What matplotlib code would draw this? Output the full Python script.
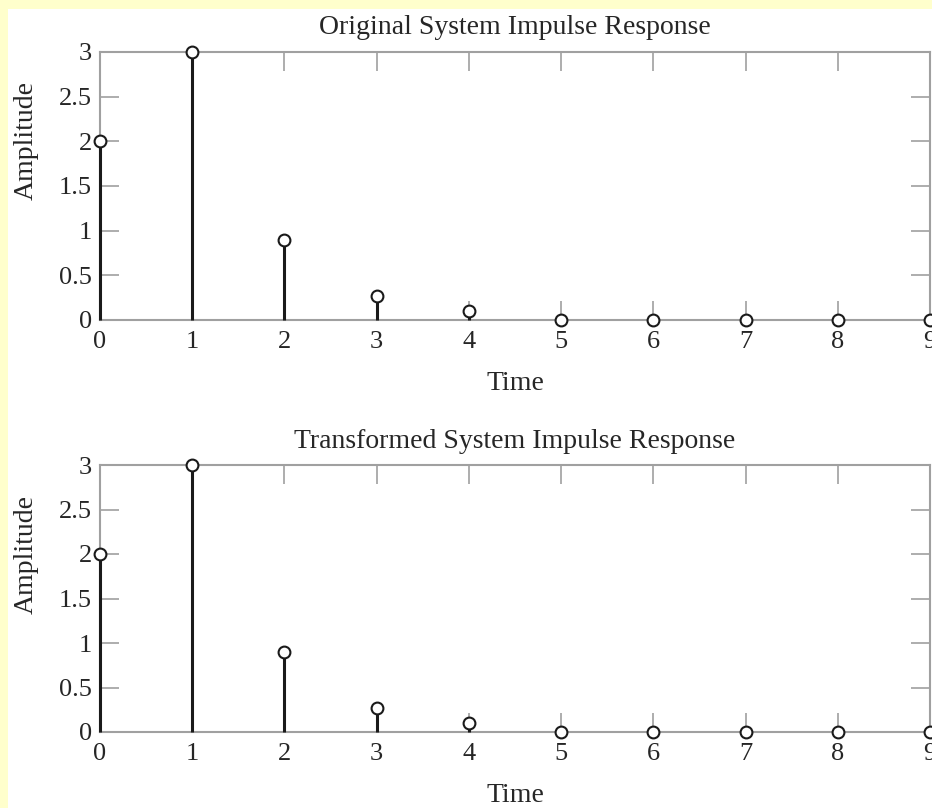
import matplotlib
matplotlib.use("Agg")
import matplotlib.pyplot as plt
import numpy as np

time_idx = [0, 1, 2, 3, 4, 5, 6, 7, 8, 9]
original = [2, 3, 0.9, 0.27, 0.1, 0, 0, 0, 0, 0]
transformed = [2, 3, 0.9, 0.27, 0.1, 0, 0, 0, 0, 0]
titles = ["Original System Impulse Response", "Transformed System Impulse Response"]
yticks = [0, 0.5, 1, 1.5, 2, 2.5, 3]
ytick_labels = ["0", "0.5", "1", "1.5", "2", "2.5", "3"]

plt.rcParams['font.family'] = ['Liberation Serif', 'DejaVu Serif']

W, H = 932, 808
fig = plt.figure(figsize=(W/100, H/100), dpi=100, facecolor='#FFFFCC')
# white panel (background axes)
bg = fig.add_axes([8/W, 0, 1 - 8/W, 1 - 9/H], zorder=-10)
bg.axis('off')
bg.add_patch(plt.Rectangle((0, 0), 1, 1, transform=bg.transAxes,
                           facecolor='white', edgecolor='none'))

axes_px = [(52, 320), (465, 732)]
ylabel_centers = [140, 555]
series = [original, transformed]
spine_col = '#a0a0a0'
text_col = '#262626'
for (top, bot), yl, vals, title in zip(axes_px, ylabel_centers, series, titles):
    h = bot - top
    ax = fig.add_axes([100/W, 1 - bot/H, 830/W, h/H])
    ax.set_facecolor('none')
    ax.set_xlim(0, 9)
    ax.set_ylim(0, 3)
    for x, v in zip(time_idx, vals):
        ax.plot([x, x], [0, v], color='#1a1a1a', lw=2.2, solid_capstyle='butt',
                clip_on=False, zorder=3)
    ax.plot(time_idx, vals, linestyle='none', marker='o', markersize=8.5,
            markerfacecolor='white', markeredgecolor='#1a1a1a', markeredgewidth=1.5,
            clip_on=False, zorder=4)
    for s in ax.spines.values():
        s.set_color(spine_col)
        s.set_linewidth(1.5)
    ax.set_xticks(time_idx)
    ax.set_xticklabels([str(t) for t in time_idx])
    ax.set_yticks(yticks)
    ax.set_yticklabels(ytick_labels)
    ax.tick_params(direction='in', length=14, width=1.2, color=spine_col,
                   top=True, right=True, labelsize=19, labelcolor=text_col)
    ax.tick_params(axis='x', pad=8)
    ax.tick_params(axis='y', pad=6)
    ax.set_title(title, fontsize=20, color=text_col, y=1 + 24/h, pad=0, va='center')
    ax.set_xlabel('Time', fontsize=20, color=text_col, va='center')
    ax.xaxis.set_label_coords(0.5, -64/h)
    ax.set_ylabel('Amplitude', fontsize=20, color=text_col, va='center')
    ax.yaxis.set_label_coords(-74/830, (bot - yl)/h)

fig.savefig('out.png', dpi=100, facecolor=fig.get_facecolor())
